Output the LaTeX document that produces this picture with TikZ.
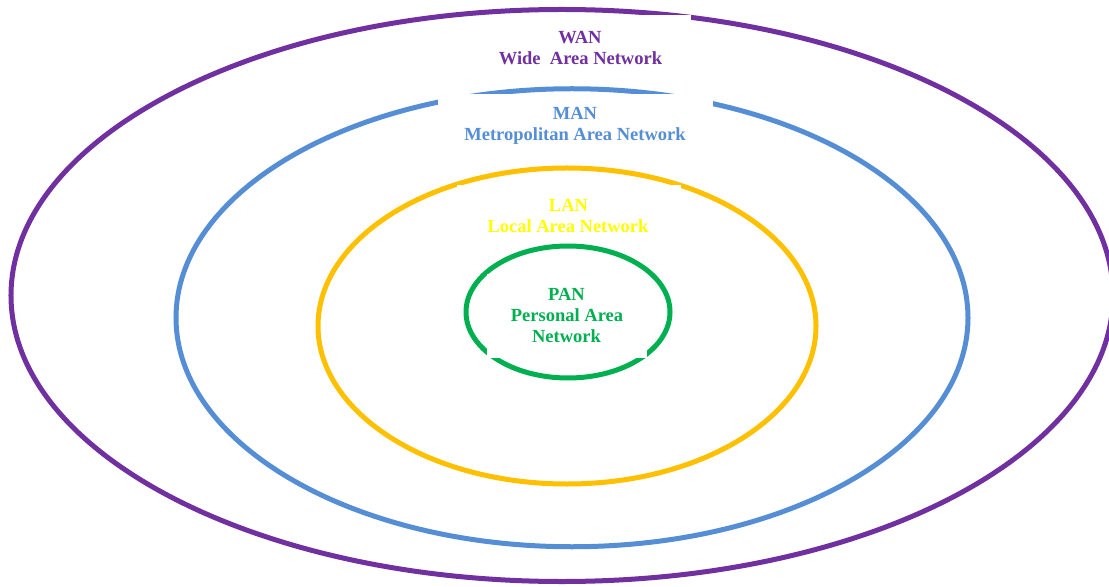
\documentclass[tikz,border=0pt]{standalone}
\usepackage{fontspec}
\setmainfont{Liberation Serif}
\definecolor{wanc}{HTML}{7030A0}
\definecolor{manc}{HTML}{558ED5}
\definecolor{lanc}{HTML}{FFC000}
\definecolor{lantext}{HTML}{FFFF00}
\definecolor{panc}{HTML}{00B050}
\tikzset{
  ring/.style={line width=5bp},
  cover/.style={fill=white},
  lbl/.style={anchor=base, inner sep=0pt, font=\fontsize{18.5bp}{21bp}\selectfont\bfseries},
}
\begin{document}
\begin{tikzpicture}[x=1bp,y=-1bp]
\useasboundingbox (0,0) rectangle (1109,587);
% rings
\draw[ring, wanc] (562,295.5) ellipse [x radius=551bp, y radius=286bp];
\draw[ring, manc] (572,317.75) ellipse [x radius=396bp, y radius=229bp];
\draw[ring, lanc] (567,326) ellipse [x radius=249bp, y radius=158bp];
\draw[ring, panc] (568,312) ellipse [x radius=102bp, y radius=66bp];
% white text boxes
\fill[cover] (520,15.5) rectangle (691,75);
\fill[cover] (437.5,94.5) rectangle (712.5,150);
\fill[cover] (457,185.5) rectangle (681,238);
\fill[cover] (487,274) rectangle (647,357.5);
% labels
\node[lbl, text=wanc] (wan1) at (580,43.5) {WAN};
\node[lbl, text=wanc] (wan2) at (580.5,64.5) {Wide\ \ Area Network};
\node[lbl, text=manc] (man1) at (575,120) {MAN};
\node[lbl, text=manc] (man2) at (575,141) {Metropolitan Area Network};
\node[lbl, text=lantext] (lan1) at (568.5,212) {LAN};
\node[lbl, text=lantext] (lan2) at (568,233) {Local Area Network};
\node[lbl, text=panc] (pan1) at (566.5,300.5) {PAN};
\node[lbl, text=panc] (pan2) at (567,322) {Personal Area};
\node[lbl, text=panc] (pan3) at (566.5,342.5) {Network};
\end{tikzpicture}
\end{document}
